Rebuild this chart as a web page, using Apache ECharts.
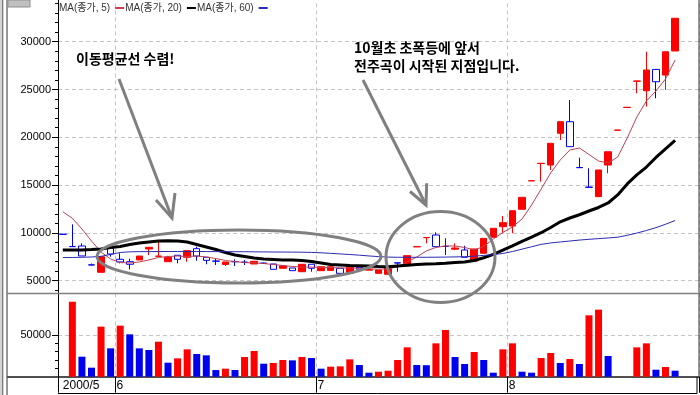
<!DOCTYPE html>
<html><head><meta charset="utf-8">
<script src="https://cdn.jsdelivr.net/npm/echarts@6/dist/echarts.min.js"></script>
<style>html,body{margin:0;padding:0;background:#fff}#c{width:700px;height:395px}</style>
</head><body><div id="c"></div>
<script>
// ---- data ----
const dates = [
'2000/05/24','2000/05/25','2000/05/26','2000/05/29','2000/05/30','2000/05/31',
'2000/06/01','2000/06/02','2000/06/05','2000/06/07','2000/06/08','2000/06/09','2000/06/12','2000/06/13','2000/06/14','2000/06/15','2000/06/16','2000/06/19','2000/06/20','2000/06/21','2000/06/22','2000/06/23','2000/06/26','2000/06/27','2000/06/28','2000/06/29','2000/06/30',
'2000/07/03','2000/07/04','2000/07/05','2000/07/06','2000/07/07','2000/07/10','2000/07/11','2000/07/12','2000/07/13','2000/07/14','2000/07/18','2000/07/19','2000/07/20','2000/07/21','2000/07/24','2000/07/25','2000/07/26','2000/07/27','2000/07/28','2000/07/31',
'2000/08/01','2000/08/02','2000/08/03','2000/08/04','2000/08/07','2000/08/08','2000/08/09','2000/08/10','2000/08/11','2000/08/14','2000/08/16','2000/08/17','2000/08/18','2000/08/21','2000/08/22','2000/08/23','2000/08/24','2000/08/25'
];
const openP  = [9860,8580,8630,6660,5880,8390,7240,6990,7170,8320, 7550,6990,7660,7450,8350,7450,7060,6700,7000,6940, 6750,6840,6750,6300,6330,5940,6720,6050,6080,6300, 5770,6400,6100,5770,5670,6870,6570,8540,9500,9780, 8600,8300,8210,7050,7870,9540,10650,10720,12470,15440, 17260,17100,20420,21630,16840,14790,13790,17100,20740,23120, 25870,24870,27100,26510,29030];
const closeP = [9850,8560,7590,6640,7510,7790,6960,6720,7580,8490, 7570,7450,7240,8140,7580,7130,7040,6960,6980,6920, 7030,6820,6190,6540,6050,6720,6300,6460,6460,5770, 6460,6200,6180,6120,6300,6850,7620,8560,9520,8560, 8580,8420,7450,8320,9430,10480,11070,12320,13720,15460, 17280,19370,21630,19020,16820,14770,16580,18490,20760,23140, 25890,27040,25810,28950,32450];
const lowP   = [9850,8560,7590,6640,5880,7510,6820,6190,7170,7670, 7550,6990,6820,6990,7090,6720,6640,6540,6540,6640, 6750,6750,6190,6300,6050,5940,5940,6050,6080,5770, 5770,6200,6100,5770,5670,5940,6570,8540,8910,8560, 7690,8200,7450,7050,7870,9540,9960,9960,12470,15440, 15350,16580,19720,19020,16820,14770,13790,16230,20740,23120, 24600,23200,24080,24950,29030];
const highP  = [9860,10900,8910,6800,7510,8390,7870,7300,7580,8490, 9150,7600,7660,8140,8560,7450,7270,6960,7240,7170, 7030,6900,6750,6540,6330,6720,6720,6460,6460,6300, 6460,6400,6180,6120,6300,6870,7620,8560,9520,10060, 9430,8910,8660,8320,9430,10480,11770,12320,13720,15460, 17280,19370,21630,23900,17870,16760,16580,18490,20760,23140, 25890,28950,27100,28950,32450];
const volume = [null,89900,24000,10800,60000,34000,61200,50800,34000,32000, 42000,16800,22000,32800,27200,25600,8000,9600,8000,23600, 30800,15600,16400,20000,19600,23600,22400,9600,12000,12400, 20800,14000,4800,6000,7200,20000,35200,14000,13800,40000, 56000,23600,15200,29600,20000,4800,32800,40000,6000,4800, 22400,28400,16400,21200,15200,73600,80400,24800,0,0, 35200,40000,8400,11600,7200];
const ma5  = [12220,11530,10410,9150,8000,7270,6900,6850,6960,7170, 7430,7530,7580,7530,7580,7480,7320,7110,7010,6900, 6850,6800,6690,6590,6490,6430,6430,6380,6380,6330, 6330,6300,6250,6200,6250,6430,6960,7480,8110,8480, 8630,8630,8480,8210,8580,9360,10040,10620,11450,12920, 14590,16270,17630,18670,18880,18200,17520,17310,17940,19930, 22120,23800,24840,26100,28080];
const ma20 = [8210,8210,8210,8260,8320,8470,8580,8790,8940,9050, 9150,9180,9150,9050,8790,8530,8260,7950,7690,7530, 7370,7270,7220,7170,7170,7110,7010,6850,6690,6640, 6590,6570,6540,6490,6460,6540,6610,6690,6750,6780, 6820,6900,6960,7110,7400,7750,8200,8650,9120,9560, 10020,10560,11160,11560,11900,12290,12660,13130,13970,15120, 16060,16890,17890,18780,19670];
const ma60 = [7420,7430,7450,7480,7550,7750,7950,8020,8040,8040, 8050,8050,8050,8050,8050,8050,8040,8040,8030,8030, 8020,8010,8000,8000,7990,7980,7960,7920,7860,7800, 7740,7670,7590,7520,7470,7450,7450,7450,7450,7460, 7470,7490,7510,7560,7650,7720,7850,8050,8300,8550, 8800,8950,9050,9150,9250,9330,9400,9470,9550,9750, 9980,10250,10550,10900,11300];
const priceTicks = [5000,10000,15000,20000,25000,30000];
const volumeTicks = [50000];
const volumeMinorTicks = [10000,20000,30000,40000];
const legendNames = ['MA(종가, 5)','MA(종가, 20)','MA(종가, 60)'];
const note1 = '이동평균선 수렴!';
const note2 = ['10월초 초폭등에 앞서','전주곡이 시작된 지점입니다.'];

// ---- derived ----
const cats = dates.concat(['', ' ']);
const monthOf = d => d.split('/')[1];
const monthStarts = [];
dates.forEach((d, i) => { if (i === 0 || monthOf(d) !== monthOf(dates[i - 1])) monthStarts.push(i); });
const labelAt = {};
monthStarts.forEach((s) => {
  const m = String(Number(monthOf(dates[s])));
  if (s === 0) labelAt[0] = '{a|' + dates[0].split('/')[0] + '/' + m + '}';
  else labelAt[s - 1] = '{b|' + m + '}';
});
const RED = '#ff0000', BLUE = '#0000f0';
const candle = dates.map((d, i) => [openP[i], closeP[i], lowP[i], highP[i]]);
const volData = volume.map((v, i) => {
  if (v === null) return '-';
  const prev = i > 0 ? volume[i - 1] : null;
  const up = prev === null || v > prev;
  return { value: v, itemStyle: { color: up ? RED : BLUE } };
});

const numFont = '"Liberation Sans", Arial, sans-serif';
const krFont = '"Noto Sans CJK KR", sans-serif';
const gridLine = { show: true, lineStyle: { color: '#c4c4c4', type: [4, 3], width: 1 } };
const isStart = idx => monthStarts.indexOf(idx) >= 0;
const plain = v => String(v);

const chart = echarts.init(document.getElementById('c'), null, { renderer: 'canvas' });
const gray = '#808080';
chart.setOption({
  animation: false,
  backgroundColor: '#ffffff',
  legend: {
    data: legendNames.map(n => ({ name: n, icon: 'rect' })),
    left: 59, top: 3, padding: 0, itemGap: 1, itemWidth: 9, itemHeight: 2,
    align: 'right', selectedMode: false,
    textStyle: { fontSize: 10, color: '#333', fontFamily: numFont + ', "Noto Sans CJK KR"' }
  },
  grid: [
    { left: 58, right: 1, top: 3.46, height: 286.8 },
    { left: 58, right: 1, top: 293.3, height: 83.4 }
  ],
  xAxis: [
    { type: 'category', gridIndex: 0, data: cats, boundaryGap: true,
      axisLine: { show: false }, axisTick: { show: false }, axisLabel: { show: false },
      splitLine: Object.assign({ interval: (i) => isStart(i) }, gridLine) },
    { type: 'category', gridIndex: 1, data: cats, boundaryGap: true,
      axisLine: { show: true, lineStyle: { color: '#505050', width: 2 } },
      axisTick: { show: true, length: 16, interval: (i) => isStart(i), lineStyle: { color: '#000', width: 1 } },
      axisLabel: { show: true, interval: (i) => labelAt[i] !== undefined, align: 'left', margin: 3,
        formatter: (v, i) => labelAt[i] || '',
        rich: { a: { fontSize: 12, color: '#000', fontFamily: numFont, padding: [0, 0, 0, 0] },
                b: { fontSize: 12, color: '#000', fontFamily: numFont, padding: [0, 0, 0, 6] } } },
      splitLine: Object.assign({ interval: (i) => isStart(i) }, gridLine) }
  ],
  yAxis: [
    { type: 'value', gridIndex: 0, position: 'left', offset: 0, min: 4000, max: 34000, axisLine: { show: false },
      axisTick: { show: true, length: 6, customValues: priceTicks, lineStyle: { color: '#000' } },
      axisLabel: { show: true, customValues: priceTicks, formatter: plain, fontSize: 11, color: '#000', fontFamily: numFont, margin: 7 },
      splitLine: gridLine },
    { type: 'value', gridIndex: 0, position: 'left', offset: 0, min: 4000, max: 34000, interval: 1000, axisLine: { show: false },
      axisTick: { show: true, length: 3, lineStyle: { color: '#000' } },
      axisLabel: { show: false }, splitLine: { show: false } },
    { type: 'value', gridIndex: 1, position: 'left', offset: 0, min: 0, max: 100000, axisLine: { show: false },
      axisTick: { show: true, length: 6, customValues: volumeTicks, lineStyle: { color: '#000' } },
      axisLabel: { show: true, customValues: volumeTicks, formatter: plain, fontSize: 11, color: '#000', fontFamily: numFont, margin: 7 },
      splitLine: gridLine },
    { type: 'value', gridIndex: 1, position: 'left', offset: 0, min: 0, max: 100000, axisLine: { show: false },
      axisTick: { show: true, length: 3, customValues: volumeMinorTicks, lineStyle: { color: '#000' } },
      axisLabel: { show: false }, splitLine: { show: false } }
  ],
  series: [
    { type: 'candlestick', name: 'price', xAxisIndex: 0, yAxisIndex: 0, data: candle, barWidth: 7,
      itemStyle: { color: RED, color0: '#ffffff', borderColor: RED, borderColor0: BLUE, borderWidth: 1 }, z: 2 },
    { type: 'line', name: legendNames[0], xAxisIndex: 0, yAxisIndex: 0, data: ma5, showSymbol: false,
      color: '#c04050', lineStyle: { color: '#c04050', width: 1 }, z: 3 },
    { type: 'line', name: legendNames[1], xAxisIndex: 0, yAxisIndex: 0, data: ma20, showSymbol: false,
      color: '#000000', lineStyle: { color: '#000000', width: 3 }, z: 3 },
    { type: 'line', name: legendNames[2], xAxisIndex: 0, yAxisIndex: 0, data: ma60, showSymbol: false,
      color: '#2a2ab4', lineStyle: { color: '#2a2ab4', width: 1 }, z: 3 },
    { type: 'bar', name: 'volume', xAxisIndex: 1, yAxisIndex: 2, data: volData, barWidth: 7 }
  ],
  graphic: [
    { type: 'rect', shape: { x: 0, y: 0, width: 4, height: 395 }, style: { fill: '#d4d4d4' }, z: 50 },
    { type: 'line', shape: { x1: 2.5, y1: 0, x2: 2.5, y2: 395 }, style: { stroke: '#7a7a7a', lineWidth: 1 }, z: 51 },
    { type: 'line', shape: { x1: 7, y1: 0, x2: 7, y2: 395 }, style: { stroke: '#303030', lineWidth: 1 }, z: 51 },
    { type: 'rect', shape: { x: 8, y: 0, width: 22, height: 7 }, style: { fill: '#c0c0c0', stroke: '#909090', lineWidth: 1 }, z: 51 },
    { type: 'line', shape: { x1: 58.5, y1: 0, x2: 58.5, y2: 377 }, style: { stroke: '#000', lineWidth: 1 }, z: 51 },
    { type: 'line', shape: { x1: 699, y1: 0, x2: 699, y2: 377 }, style: { stroke: '#303030', lineWidth: 1 }, z: 51 },
    { type: 'line', shape: { x1: 7, y1: 293.5, x2: 699, y2: 293.5 }, style: { stroke: '#808080', lineWidth: 1.5 }, z: 51 },
    { type: 'line', shape: { x1: 7, y1: 377, x2: 58, y2: 377 }, style: { stroke: '#505050', lineWidth: 2 }, z: 51 },
    { type: 'line', shape: { x1: 58, y1: 393.5, x2: 697, y2: 393.5 }, style: { stroke: '#000', lineWidth: 1 }, z: 51 },
    { type: 'line', shape: { x1: 697, y1: 377, x2: 697, y2: 393.5 }, style: { stroke: '#000', lineWidth: 1 }, z: 51 },
    // annotations
    { type: 'ellipse', shape: { cx: 239, cy: 256.5, rx: 142, ry: 26.5 }, style: { fill: null, stroke: gray, lineWidth: 3 }, z: 100 },
    { type: 'ellipse', shape: { cx: 440.5, cy: 257, rx: 54.5, ry: 45.5 }, style: { fill: null, stroke: gray, lineWidth: 3 }, z: 100 },
    { type: 'polyline', shape: { points: [[119, 79], [172, 218]] }, style: { stroke: gray, lineWidth: 3, fill: null }, z: 100 },
    { type: 'polyline', shape: { points: [[156, 200], [172, 218], [175, 193]] }, style: { stroke: gray, lineWidth: 3, fill: null }, z: 100 },
    { type: 'polyline', shape: { points: [[363, 80], [426, 205]] }, style: { stroke: gray, lineWidth: 3, fill: null }, z: 100 },
    { type: 'polyline', shape: { points: [[410, 191.5], [426, 205], [426.7, 183.3]] }, style: { stroke: gray, lineWidth: 3, fill: null }, z: 100 },
    { type: 'text', x: 76, y: 58.5, style: { text: note1, font: 'bold 14px ' + krFont, fill: '#000', verticalAlign: 'middle' }, z: 100 },
    { type: 'text', x: 354, y: 48, style: { text: note2[0], font: 'bold 14px ' + krFont, fill: '#000', verticalAlign: 'middle' }, z: 100 },
    { type: 'text', x: 354, y: 65.5, style: { text: note2[1], font: 'bold 14px ' + krFont, fill: '#000', verticalAlign: 'middle' }, z: 100 }
  ]
});
</script></body></html>
